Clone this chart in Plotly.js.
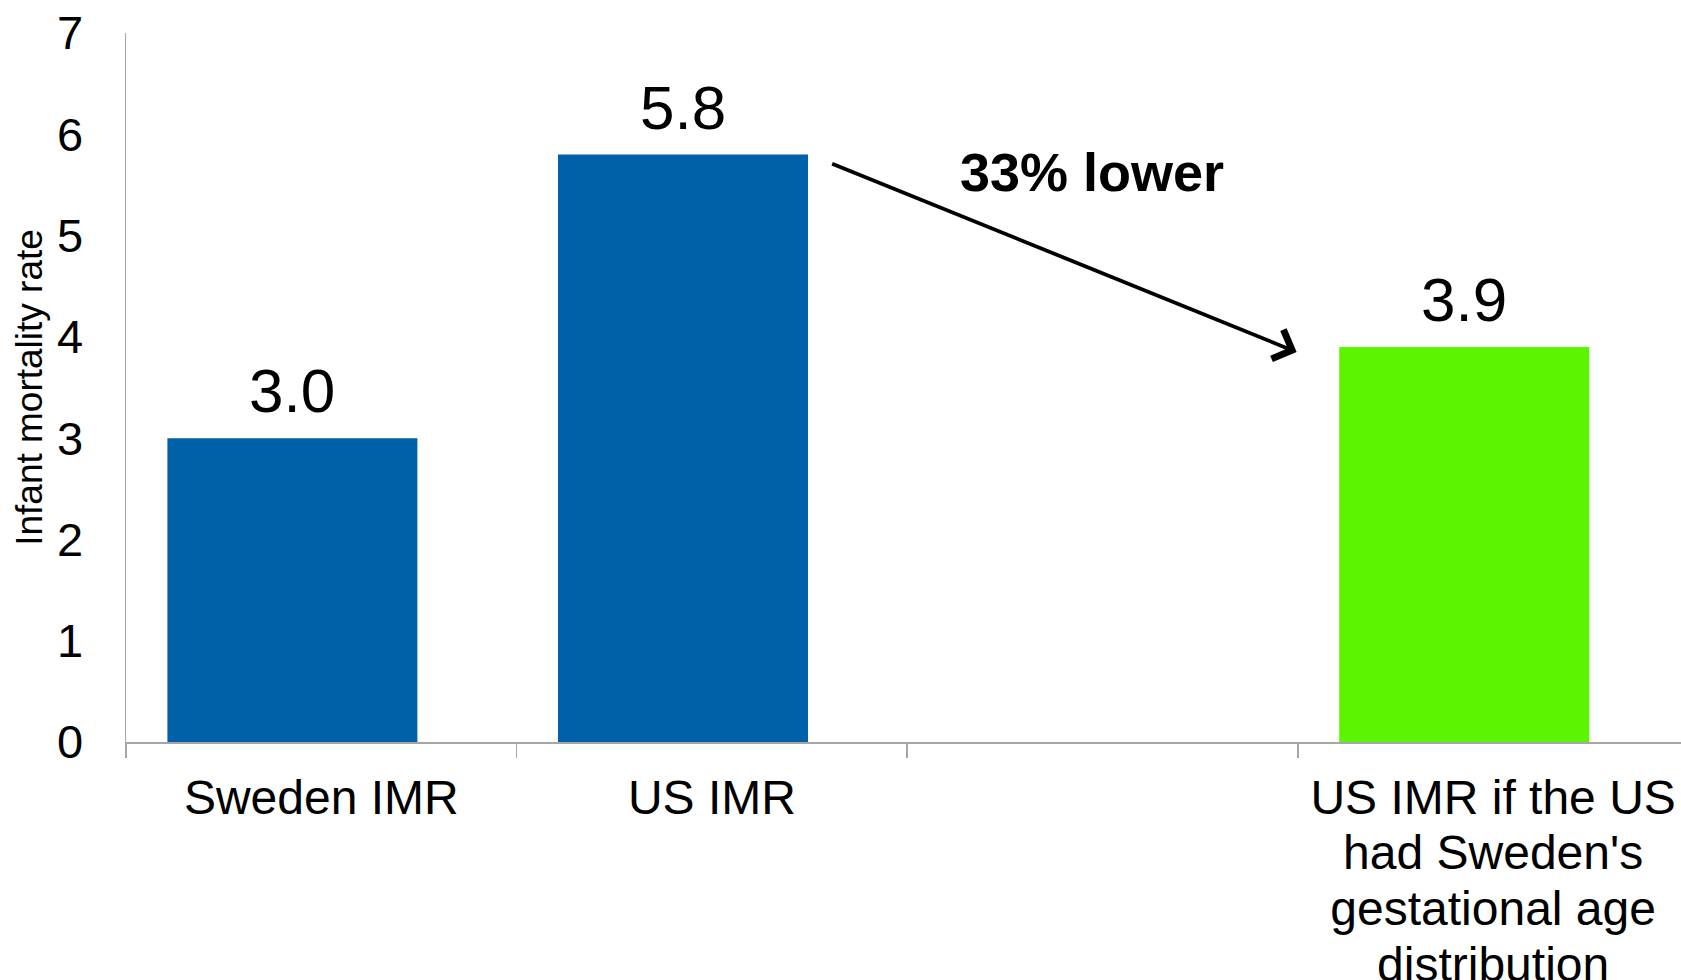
<!DOCTYPE html>
<html>
<head>
<meta charset="utf-8">
<script src="https://cdn.plot.ly/plotly-3.0.1.min.js"></script>
<style>
  html, body { margin: 0; padding: 0; background: #ffffff; }
  #chart { width: 1681px; height: 980px; }
</style>
</head>
<body>
<div id="chart"></div>
<script>
// ---- data ----
var categories = [
  "Sweden IMR",
  "US IMR",
  " ",
  "US IMR if the US<br>had Sweden's<br>gestational age<br>distribution"
];
var imrValues = [3.0, 5.8, null, 3.9];
var barColors = ["#0061A8", "#0061A8", "#0061A8", "#5CF500"];
var yTickValues = [0, 1, 2, 3, 4, 5, 6, 7];
var yAxisTitle = "Infant mortality rate";
var changeLabel = "33% lower";

var FONT = "Liberation Sans, Arial, sans-serif";
var BAR_WIDTH = 0.64;
var BAR_OFFSET = -0.394;
var CAT_PX = (1681 - 126) / 3.981; // pixels per category on the x axis

var trace = {
  type: "bar",
  x: categories,
  y: imrValues,
  marker: { color: barColors, line: { width: 0 } },
  width: BAR_WIDTH,
  offset: BAR_OFFSET,
  hoverinfo: "skip"
};

// value labels above the bars (from the data arrays)
var valueAnnotations = [];
categories.forEach(function (c, i) {
  if (imrValues[i] === null) return;
  valueAnnotations.push({
    xref: "x", yref: "y",
    x: c, y: imrValues[i],
    text: imrValues[i].toFixed(1),
    showarrow: false,
    xanchor: "center", yanchor: "bottom",
    xshift: (BAR_OFFSET + BAR_WIDTH / 2) * CAT_PX,
    yshift: 11,
    font: { family: FONT, size: 62, color: "#000000" }
  });
});

var layout = {
  width: 1681,
  height: 980,
  margin: { l: 126, r: 0, t: 33, b: 238, pad: 0 },
  paper_bgcolor: "#ffffff",
  plot_bgcolor: "#ffffff",
  showlegend: false,
  font: { family: FONT, color: "#000000" },
  xaxis: {
    type: "category",
    categoryorder: "array",
    categoryarray: categories,
    range: [-0.5, 3.481],
    showline: true,
    linecolor: "#a6a6a6",
    linewidth: 2,
    showgrid: false,
    zeroline: false,
    ticks: "outside",
    tickson: "boundaries",
    ticklen: 14,
    tickwidth: 1.5,
    tickcolor: "#a6a6a6",
    ticklabelstandoff: 12,
    tickfont: { family: FONT, size: 48, color: "#000000" },
    tickangle: 0,
    fixedrange: true
  },
  yaxis: {
    range: [0, 7],
    tickvals: yTickValues,
    ticktext: yTickValues.map(String),
    showline: true,
    linecolor: "#a6a6a6",
    linewidth: 1.5,
    showgrid: false,
    zeroline: false,
    ticks: "",
    ticklabelstandoff: 32,
    tickfont: { family: FONT, size: 47, color: "#000000" },
    title: {
      text: yAxisTitle,
      font: { family: FONT, size: 37, color: "#000000" },
      standoff: 3
    },
    fixedrange: true
  },
  annotations: valueAnnotations.concat([
    {
      xref: "x", yref: "y", axref: "x", ayref: "y",
      x: 2.497, y: 3.85,
      ax: 1.304, ay: 5.716,
      text: "",
      showarrow: true,
      arrowhead: 4,
      arrowsize: 1.6,
      arrowwidth: 3.8,
      arrowcolor: "#000000"
    },
    {
      xref: "paper", yref: "paper",
      x: 0.621, y: 0.804,
      xanchor: "center", yanchor: "middle",
      text: "<b>" + changeLabel + "</b>",
      showarrow: false,
      font: { family: FONT, size: 54, color: "#000000" }
    }
  ])
};

Plotly.newPlot("chart", [trace], layout, { displayModeBar: false, responsive: false, staticPlot: true })
  .then(function () {
    // tighten multi-line tick label spacing to match the original (approx 1.16em)
    var lines = document.querySelectorAll(".xtick text tspan.line");
    lines.forEach(function (t) {
      var dy = t.getAttribute("dy");
      if (dy && dy.indexOf("em") > 0) {
        var v = parseFloat(dy);
        if (v > 0) t.setAttribute("dy", (v * 1.16 / 1.3).toFixed(3) + "em");
      }
    });
  });
</script>
</body>
</html>
